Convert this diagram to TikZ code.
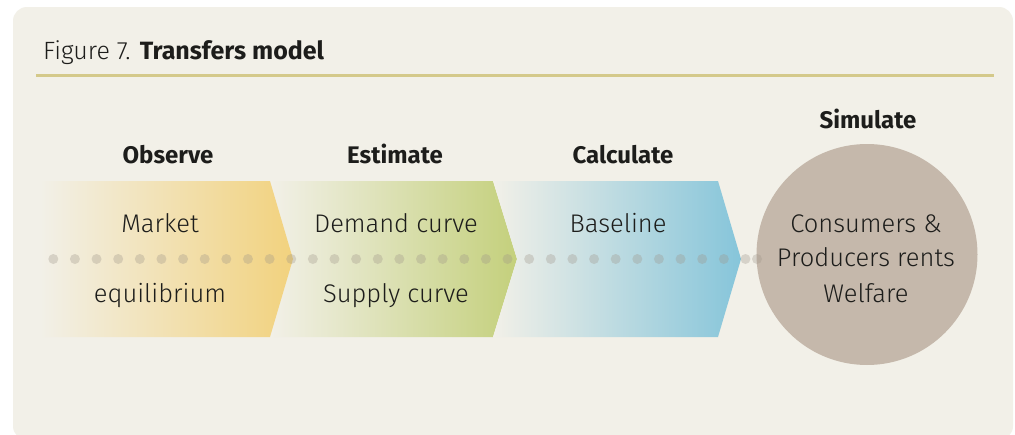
\documentclass[tikz,border=0pt]{standalone}
\usepackage{fontspec}
\setmainfont{Fira Sans}[UprightFont={* Light},BoldFont={* Bold}]
\definecolor{bgc}{HTML}{F2F0E8}
\definecolor{linec}{HTML}{D4C98A}
\definecolor{yelc}{HTML}{F2D27E}
\definecolor{grnc}{HTML}{C4D07C}
\definecolor{bluc}{HTML}{86C5DA}
\definecolor{circc}{HTML}{C5B8AB}
\definecolor{dotc}{HTML}{9E9488}
\definecolor{txtc}{HTML}{1D1D1B}
\begin{document}
\begin{tikzpicture}[x=1pt,y=-1pt,
  head/.style={anchor=base,font=\fontsize{24}{28}\selectfont\bfseries,text=txtc,inner sep=0},
  body/.style={anchor=base,font=\fontsize{25.5}{29}\selectfont,text=txtc,inner sep=0},
  dotmark/.style={fill=dotc,opacity=0.32}]
\useasboundingbox (0,0) rectangle (1015,434);
\fill[white] (0,0) rectangle (1015,434);
\fill[bgc,rounded corners=14pt] (13,7) rectangle (1013,440);
% title
\node[anchor=base west,inner sep=0,text=txtc,font=\fontsize{25}{29}\selectfont] (title) at (43,59) {Figure 7. \textbf{Transfers model}};
\coordinate (rl) at (36,75);
\coordinate (rr) at (994,75);
\draw[linec,line width=3pt] (rl) -- (rr);
% chevrons
\shade[left color=bgc,right color=grnc] (270,181) -- (493,181) -- (517,259) -- (493,337) -- (270,337) -- (293,259) -- cycle;
\shade[left color=bgc,right color=bluc] (493,181) -- (718,181) -- (741,259) -- (718,337) -- (493,337) -- (517,259) -- cycle;
\shade[left color=bgc,right color=yelc] (40,181) -- (270,181) -- (293,259) -- (270,337) -- (40,337) -- cycle;
% circle
\node[circle,fill=circc,minimum size=221pt,inner sep=0] (sim) at (867,254.5) {};
% dots
\foreach \i in {0,...,32} \fill[dotmark] (53.3+21.63*\i,259) circle (5);
\fill[dotmark] (757,259) circle (5);
% headings
\node[head] (h1) at (168,163) {Observe};
\node[head] (h2) at (395,163) {Estimate};
\node[head] (h3) at (623,163) {Calculate};
\node[head] (h4) at (868,128) {Simulate};
% body texts
\node[body] (t1a) at (160,232) {Market};
\node[body] (t1b) at (160,302) {equilibrium};
\node[body] (t2a) at (396,232) {Demand curve};
\node[body] (t2b) at (396,302) {Supply curve};
\node[body] (t3) at (618,232) {Baseline};
\node[body] (t4a) at (866,232) {Consumers \&};
\node[body] (t4b) at (866,266) {Producers rents};
\node[body] (t4c) at (866,302) {Welfare};
\end{tikzpicture}
\end{document}
